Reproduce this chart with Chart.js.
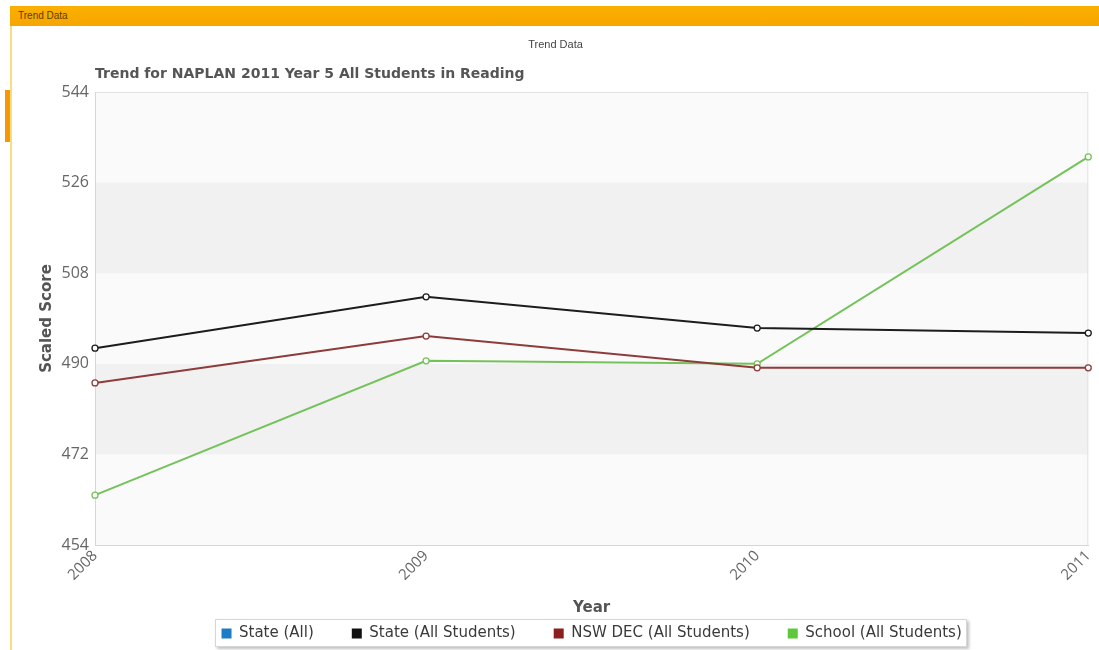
<!DOCTYPE html>
<html>
<head>
<meta charset="utf-8">
<script src="https://cdn.jsdelivr.net/npm/chart.js@4.4.0/dist/chart.umd.min.js"></script>
<style>
  html, body { margin:0; padding:0; background:#fff; width:1099px; height:650px; overflow:hidden; }
  #bar { position:absolute; left:10px; top:6px; width:1089px; height:20px;
         background:linear-gradient(#fbb000,#f6a500); }
  #bar span { position:absolute; left:8px; top:4px; font:10px "Liberation Sans", Arial, sans-serif; color:#5a4000; }
  #leftline { position:absolute; left:10px; top:26px; width:2px; height:624px; background:#f7dc86; }
  #tab { position:absolute; left:5px; top:90px; width:5px; height:52px; background:#f79800; }
  #legbox { position:absolute; left:215px; top:619px; width:750px; height:26px;
            border:1px solid #d6d6d6; box-shadow:2px 2px 3px rgba(0,0,0,0.25); background:#fff; }
  #wrap { position:absolute; left:12px; top:28px; width:1091px; height:622px; }
</style>
</head>
<body>
<div id="bar"><span>Trend Data</span></div>
<div id="leftline"></div>
<div id="tab"></div>
<div id="legbox"></div>
<div id="wrap"><canvas id="c"></canvas></div>
<script>
const years = ["2008", "2009", "2010", "2011"];
const stateAll = [null, null, null, null];
const stateAllStudents = [493.1, 503.3, 497.1, 496.1];
const nswDec = [486.2, 495.5, 489.2, 489.2];
const school = [463.9, 490.6, 490.0, 531.1];
const yTicks = [454, 472, 490, 508, 526, 544];
const legendColors = ['#1f7bc4', '#111111', '#8b1e1e', '#5cc83a'];

const LEG_PAD = 38;
const LEG_SHIFT = 33;

const bands = {
  id: 'bands',
  beforeDraw(chart) {
    const {ctx, chartArea: a, scales: {y}} = chart;
    ctx.save();
    ctx.fillStyle = '#fafafa';
    ctx.fillRect(a.left, a.top, a.right - a.left, a.bottom - a.top);
    ctx.fillStyle = '#f1f1f1';
    for (let i = 1; i < yTicks.length - 1; i += 2) {
      const t = y.getPixelForValue(yTicks[i + 1]);
      const b = y.getPixelForValue(yTicks[i]);
      ctx.fillRect(a.left, t, a.right - a.left, b - t);
    }
    ctx.strokeStyle = '#e2e2e2';
    ctx.lineWidth = 1;
    ctx.strokeRect(a.left + 0.5, a.top + 0.5, a.right - a.left - 1, a.bottom - a.top);
    ctx.restore();
  }
};

// keep wide horizontal spacing between legend items without a tall legend box
const legendSpacing = {
  id: 'legendSpacing',
  afterInit(chart) {
    const lg = chart.legend;
    if (!lg) return;
    const fit = lg.fit.bind(lg);
    const draw = lg.draw.bind(lg);
    lg.fit = function () { fit(); this.height = 27; };
    lg.draw = function () {
      const t = this.top;
      this.top = t - LEG_SHIFT;
      draw();
      this.top = t;
    };
  }
};

function ds(label, data, line, legendColor) {
  return {
    label, data,
    borderColor: line,
    backgroundColor: legendColor,
    borderWidth: 2,
    pointRadius: 3,
    pointHoverRadius: 3,
    pointBorderWidth: 1.3,
    pointBackgroundColor: '#fff',
    pointBorderColor: line,
    tension: 0,
    spanGaps: false
  };
}

new Chart(document.getElementById('c'), {
  type: 'line',
  data: {
    labels: years,
    datasets: [
      ds('State (All)', stateAll, '#1f7bc4', legendColors[0]),
      ds('State (All Students)', stateAllStudents, '#1c1c1c', legendColors[1]),
      ds('NSW DEC (All Students)', nswDec, '#8e3b3b', legendColors[2]),
      ds('School (All Students)', school, '#74c25a', legendColors[3])
    ]
  },
  options: {
    responsive: true,
    maintainAspectRatio: false,
    animation: false,
    layout: { padding: { left: 0, right: 4, top: 0, bottom: 2 } },
    plugins: {
      title: {
        display: true, text: 'Trend Data', color: '#444',
        font: { family: 'Liberation Sans', size: 11, weight: 'normal' },
        padding: { top: 10, bottom: 14 }
      },
      subtitle: {
        display: true, text: 'Trend for NAPLAN 2011 Year 5 All Students in Reading',
        align: 'start', fullSize: false, color: '#555',
        font: { family: 'DejaVu Sans', size: 14, weight: 'bold' },
        padding: { top: 1, bottom: 9 }
      },
      legend: {
        position: 'bottom', fullSize: false,
        labels: {
          usePointStyle: true, pointStyle: 'rect', boxWidth: 10, boxHeight: 10,
          color: '#3a3a3a', padding: LEG_PAD,
          font: { family: 'DejaVu Sans', size: 15 },
          generateLabels(chart) {
            return chart.data.datasets.map((d, i) => ({
              text: d.label,
              fillStyle: legendColors[i],
              strokeStyle: legendColors[i],
              lineWidth: 0,
              pointStyle: 'rect',
              hidden: false,
              datasetIndex: i,
              fontColor: '#3a3a3a'
            }));
          }
        }
      },
      tooltip: { enabled: false }
    },
    scales: {
      x: {
        offset: false,
        grid: { display: true, drawOnChartArea: false, drawTicks: false, color: '#ddd' },
        border: { color: '#d6d6d6' },
        ticks: {
          minRotation: 45, maxRotation: 45, padding: 2, color: '#666',
          font: { family: 'Open Sans', size: 15 }
        },
        title: {
          display: true, text: 'Year', color: '#555',
          font: { family: 'DejaVu Sans', size: 15, weight: 'bold' },
          padding: { top: 13, bottom: 4 }
        }
      },
      y: {
        min: 454, max: 544,
        afterBuildTicks(scale) { scale.ticks = yTicks.map(v => ({ value: v })); },
        afterFit(scale) { scale.width = 83; },
        grid: { display: false, drawTicks: false },
        border: { color: '#d6d6d6' },
        ticks: {
          padding: 6, color: '#666',
          font: { family: 'Open Sans', size: 16 }
        },
        title: {
          display: true, text: 'Scaled Score', color: '#555',
          font: { family: 'DejaVu Sans', size: 15, weight: 'bold' },
          padding: { top: 26, bottom: 0 }
        }
      }
    }
  },
  plugins: [bands, legendSpacing]
});
</script>
</body>
</html>
